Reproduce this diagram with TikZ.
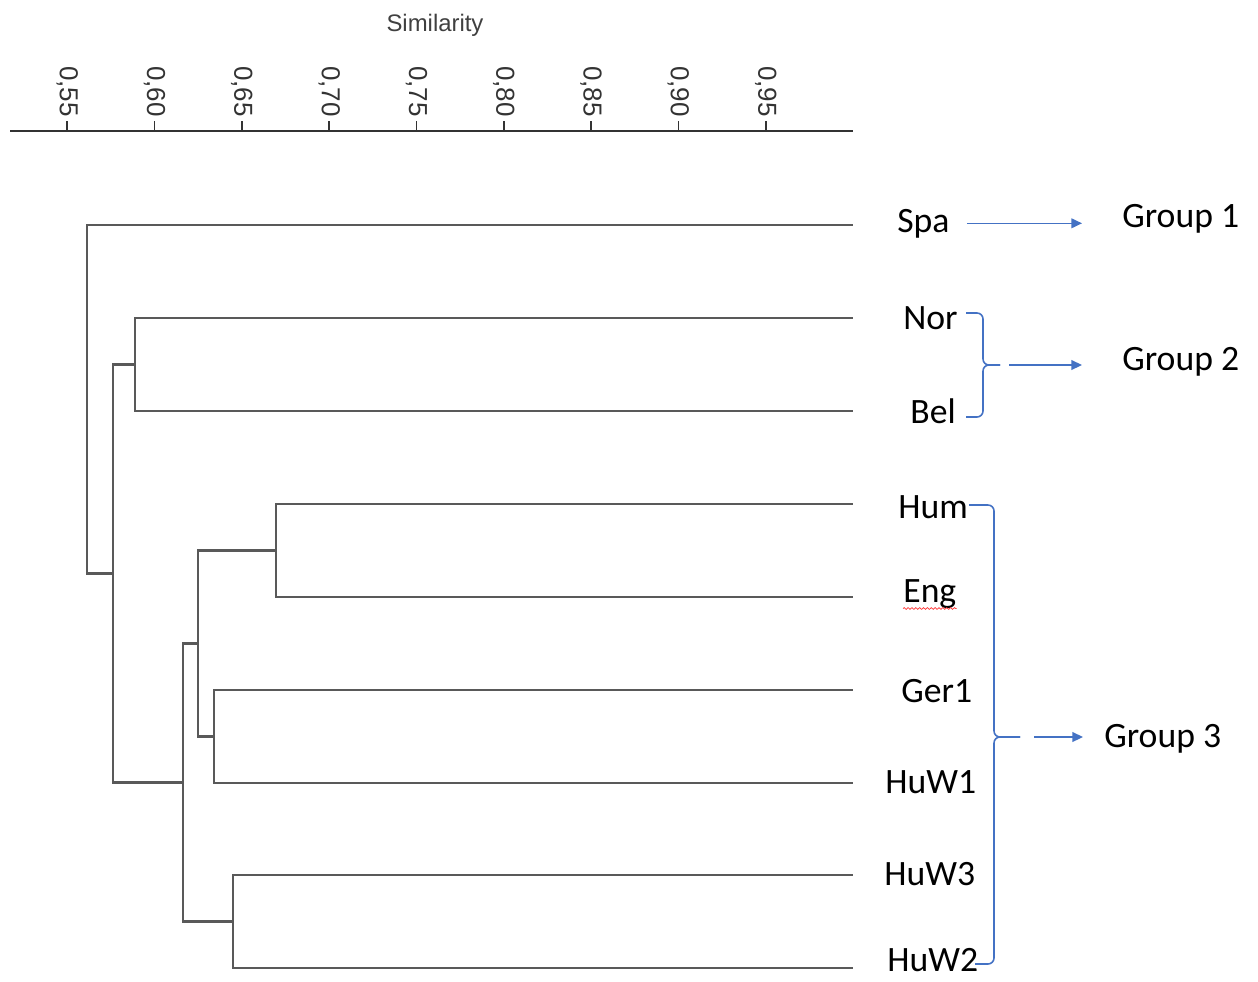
\documentclass[tikz,border=0pt]{standalone}
\usepackage{fontspec}
\setmainfont{Carlito}
\newfontfamily\axisfont{Liberation Sans}
\usetikzlibrary{arrows.meta,decorations.pathmorphing}
\definecolor{grpblue}{HTML}{4472C4}

\begin{document}
\begin{tikzpicture}[x=0.02cm,y=-0.02cm,
    dendro/.style={draw=black!65,line width=1.2pt},
    leaf/.style={anchor=base west,inner sep=0pt,font=\fontsize{20.3}{24}\selectfont},
    ticklab/.style={rotate=-90,anchor=east,inner sep=2pt,text=black!80,font=\axisfont\fontsize{14.8}{17}\selectfont},
    grp/.style={draw=grpblue,line width=0.9pt,-{Triangle[length=6pt,width=5.5pt]}},
    bracket/.style={draw=grpblue,line width=0.9pt,rounded corners=0.12cm}]
\useasboundingbox (0,0) rectangle (1258,981);

    \node[font=\axisfont\fontsize{13.6}{16}\selectfont,text=black!75] (sim) at (435,25) {Similarity};
    \coordinate (ax0) at (10,131);
    \coordinate (ax1) at (853,131);
    \draw[black!80,line width=1.2pt] (ax0) -- (ax1);
    \foreach \i/\lab in {0/{0,55},1/{0,60},2/{0,65},3/{0,70},4/{0,75},5/{0,80},6/{0,85},7/{0,90},8/{0,95}}
        \draw[black!80,line width=1pt] (67.3+87.3*\i,131) -- ++(0,-10) node[ticklab] (t\i) {\lab};

    \node[leaf] (Spa)  at (897,232) {Spa};
    \node[leaf] (Nor)  at (903,329) {Nor};
    \node[leaf] (Bel)  at (910,423) {Bel};
    \node[leaf] (Hum)  at (898,518) {Hum};
    \node[leaf] (Eng)  at (903,602) {Eng};
    \node[leaf] (Ger1) at (901,702) {Ger1};
    \node[leaf] (HuW1) at (885,793) {HuW1};
    \node[leaf] (HuW3) at (884,885) {HuW3};
    \node[leaf] (HuW2) at (887,971) {HuW2};

    \node[leaf] (G1) at (1122,227) {Group 1};
    \node[leaf] (G2) at (1122,370) {Group 2};
    \node[leaf] (G3) at (1104,747) {Group 3};

    \coordinate (eSpa)  at (853,225);
    \coordinate (eNor)  at (853,318);
    \coordinate (eBel)  at (853,411);
    \coordinate (eHum)  at (853,504);
    \coordinate (eEng)  at (853,597);
    \coordinate (eGer1) at (853,690);
    \coordinate (eHuW1) at (853,783);
    \coordinate (eHuW3) at (853,875);
    \coordinate (eHuW2) at (853,968);

    \coordinate (cNB) at (135,364.5);
    \coordinate (cHE) at (276,550.5);
    \coordinate (cGH) at (214,736.5);
    \coordinate (cWW) at (233,921.5);
    \coordinate (cHG) at (198,643.5);
    \coordinate (c3)  at (183,782.5);
    \coordinate (c23) at (113,573.5);
    \coordinate (c0)  at (87,399);

    \draw[dendro] (cNB) |- (eNor) (cNB) |- (eBel);
    \draw[dendro] (cHE) |- (eHum) (cHE) |- (eEng);
    \draw[dendro] (cGH) |- (eGer1) (cGH) |- (eHuW1);
    \draw[dendro] (cWW) |- (eHuW3) (cWW) |- (eHuW2);
    \draw[dendro] (cHG) |- (cHE) (cHG) |- (cGH);
    \draw[dendro] (c3) |- (cHG) (c3) |- (cWW);
    \draw[dendro] (c23) |- (cNB) (c23) |- (c3);
    \draw[dendro] (c0) |- (eSpa) (c0) |- (c23);

    \draw[red!80,line width=0.4pt,decorate,decoration={snake,amplitude=0.5pt,segment length=2.2pt}] (Eng.south west) -- (Eng.south east);

    \coordinate (b2t) at (966,313);
    \coordinate (b2b) at (966,417);
    \coordinate (b2m) at (983,365);
    \coordinate (b2tip) at (1000,365);
    \draw[bracket] (b2t) -| (b2m) -- (b2tip);
    \draw[bracket] (b2b) -| (b2m) -- (b2tip);

    \coordinate (b3t) at (969,505);
    \coordinate (b3b) at (975,964);
    \coordinate (b3m) at (994,737);
    \coordinate (b3tip) at (1020,737);
    \draw[bracket] (b3t) -| (b3m) -- (b3tip);
    \draw[bracket] (b3b) -| (b3m) -- (b3tip);

    \draw[grp,shorten <=0.34cm,shorten >=0.8cm] (Spa.east) -- (Spa.east -| G1.west);
    \draw[grp,shorten <=0.18cm,shorten >=0.8cm] (b2tip) -- (b2tip -| G2.west);
    \draw[grp,shorten <=0.28cm,shorten >=0.42cm] (b3tip) -- (b3tip -| G3.west);
\end{tikzpicture}
\end{document}
